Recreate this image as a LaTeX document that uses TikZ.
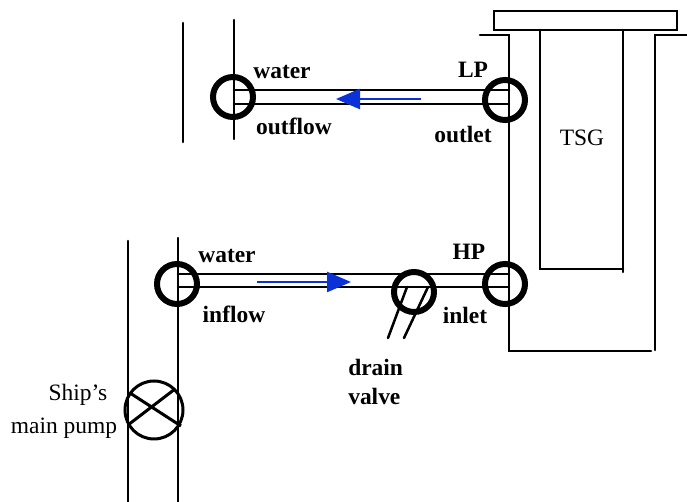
\documentclass[tikz,border=0pt]{standalone}
\usepackage{fontspec}
\setmainfont{Liberation Serif}
\usetikzlibrary{arrows.meta}

\begin{document}
\begin{tikzpicture}[x=0.75pt,y=-0.75pt]

% definitions
\tikzstyle{port} = [circle, draw=black, line width=4.5pt, minimum size=30pt, inner sep=0pt]
\tikzstyle{pump} = [circle, draw=black, line width=2.25pt, minimum size=43.5pt, inner sep=0pt]
\tikzstyle{label} = [inner sep=0pt, font=\fontsize{17.6}{21.75}\selectfont]
\tikzstyle{boldlabel} = [label, font=\fontsize{17.6}{21.75}\selectfont\bfseries]
\tikzstyle{wall} = [line width=1.9pt, line cap=round]
\tikzstyle{flow} = [draw={rgb,255:red,10;green,50;blue,215}, line width=1.9pt, -{Triangle[length=18pt,width=15pt,fill={rgb,255:red,10;green,50;blue,215}]}]

\useasboundingbox (0,0) rectangle (687,502);

% the tanks and walls
\draw [wall] (494,11) rectangle (677,30);
\draw [wall] (480,35) -- (509,35) -- (509,351) -- (651,351);
\draw [wall] (687,35) -- (655,35) -- (655,350);
\draw [wall] (540,30) -- (540,269) -- (623,269);
\draw [wall] (623,30) -- (623,272);
\draw [wall] (183,23) -- (183,142);
\draw [wall] (234,20) -- (234,139);
\draw [wall] (128,241) -- (128,502);
\draw [wall] (178,238) -- (178,502);

% the graph
\node (wo) [port] at (233,97) {};
\node (lp) [port] at (505,100) {};
\node (wi) [port] at (177,284) {};
\node (dv) [port] at (414,292) {};
\node (hp) [port] at (505,284) {};
\node (mp) [pump] at (154,410) {};

\coordinate (wot) at (234,90);
\coordinate (wob) at (234,104);
\coordinate (lpt) at (509,90);
\coordinate (lpb) at (509,104);
\coordinate (wit) at (178,274);
\coordinate (wib) at (178,287);
\coordinate (hpt) at (509,274);
\coordinate (hpb) at (509,287);
\coordinate (dva) at (407,287);
\coordinate (dvb) at (428,287);
\coordinate (dvc) at (388,338);
\coordinate (dvd) at (404,338);

\draw [wall] (wot) -- (lpt);
\draw [wall] (wob) -- (lpb);
\draw [wall] (wit) -- (hpt);
\draw [wall] (wib) -- (hpb);
\draw [wall] (dva) -- (dvc);
\draw [wall] (dvb) -- (dvd);

\coordinate (oa) at (421,99);
\coordinate (ob) at (336,99);
\coordinate (ia) at (257,282);
\coordinate (ib) at (351,282);
\draw [flow] (oa) -- (ob);
\draw [flow] (ia) -- (ib);

\coordinate (ma) at (130,393);
\coordinate (mb) at (181,426);
\coordinate (mc) at (128,425);
\coordinate (md) at (175,389);
\draw [line width=2.25pt] (ma) -- (mb);
\draw [line width=2.25pt] (mc) -- (md);

% the texts
\node (w1) [boldlabel] at (282,72) {water};
\node (o1) [boldlabel] at (294,126) {outflow};
\node (lpl) [boldlabel] at (473,70) {LP};
\node (o2) [boldlabel] at (463,135) {outlet};
\node (w2) [boldlabel] at (227,256) {water};
\node (i1) [boldlabel] at (234,314) {inflow};
\node (hpl) [boldlabel] at (469,252) {HP};
\node (i2) [boldlabel] at (465,315) {inlet};
\node (dr) [boldlabel, anchor=west] at (348,367) {drain};
\node (va) [boldlabel, anchor=west] at (348,396) {valve};
\node (tsg) [label] at (582,138) {TSG};
\node (sh) [label] at (78,395) {Ship’s};
\node (mn) [label] at (64,428) {main pump};

\end{tikzpicture}
\end{document}
